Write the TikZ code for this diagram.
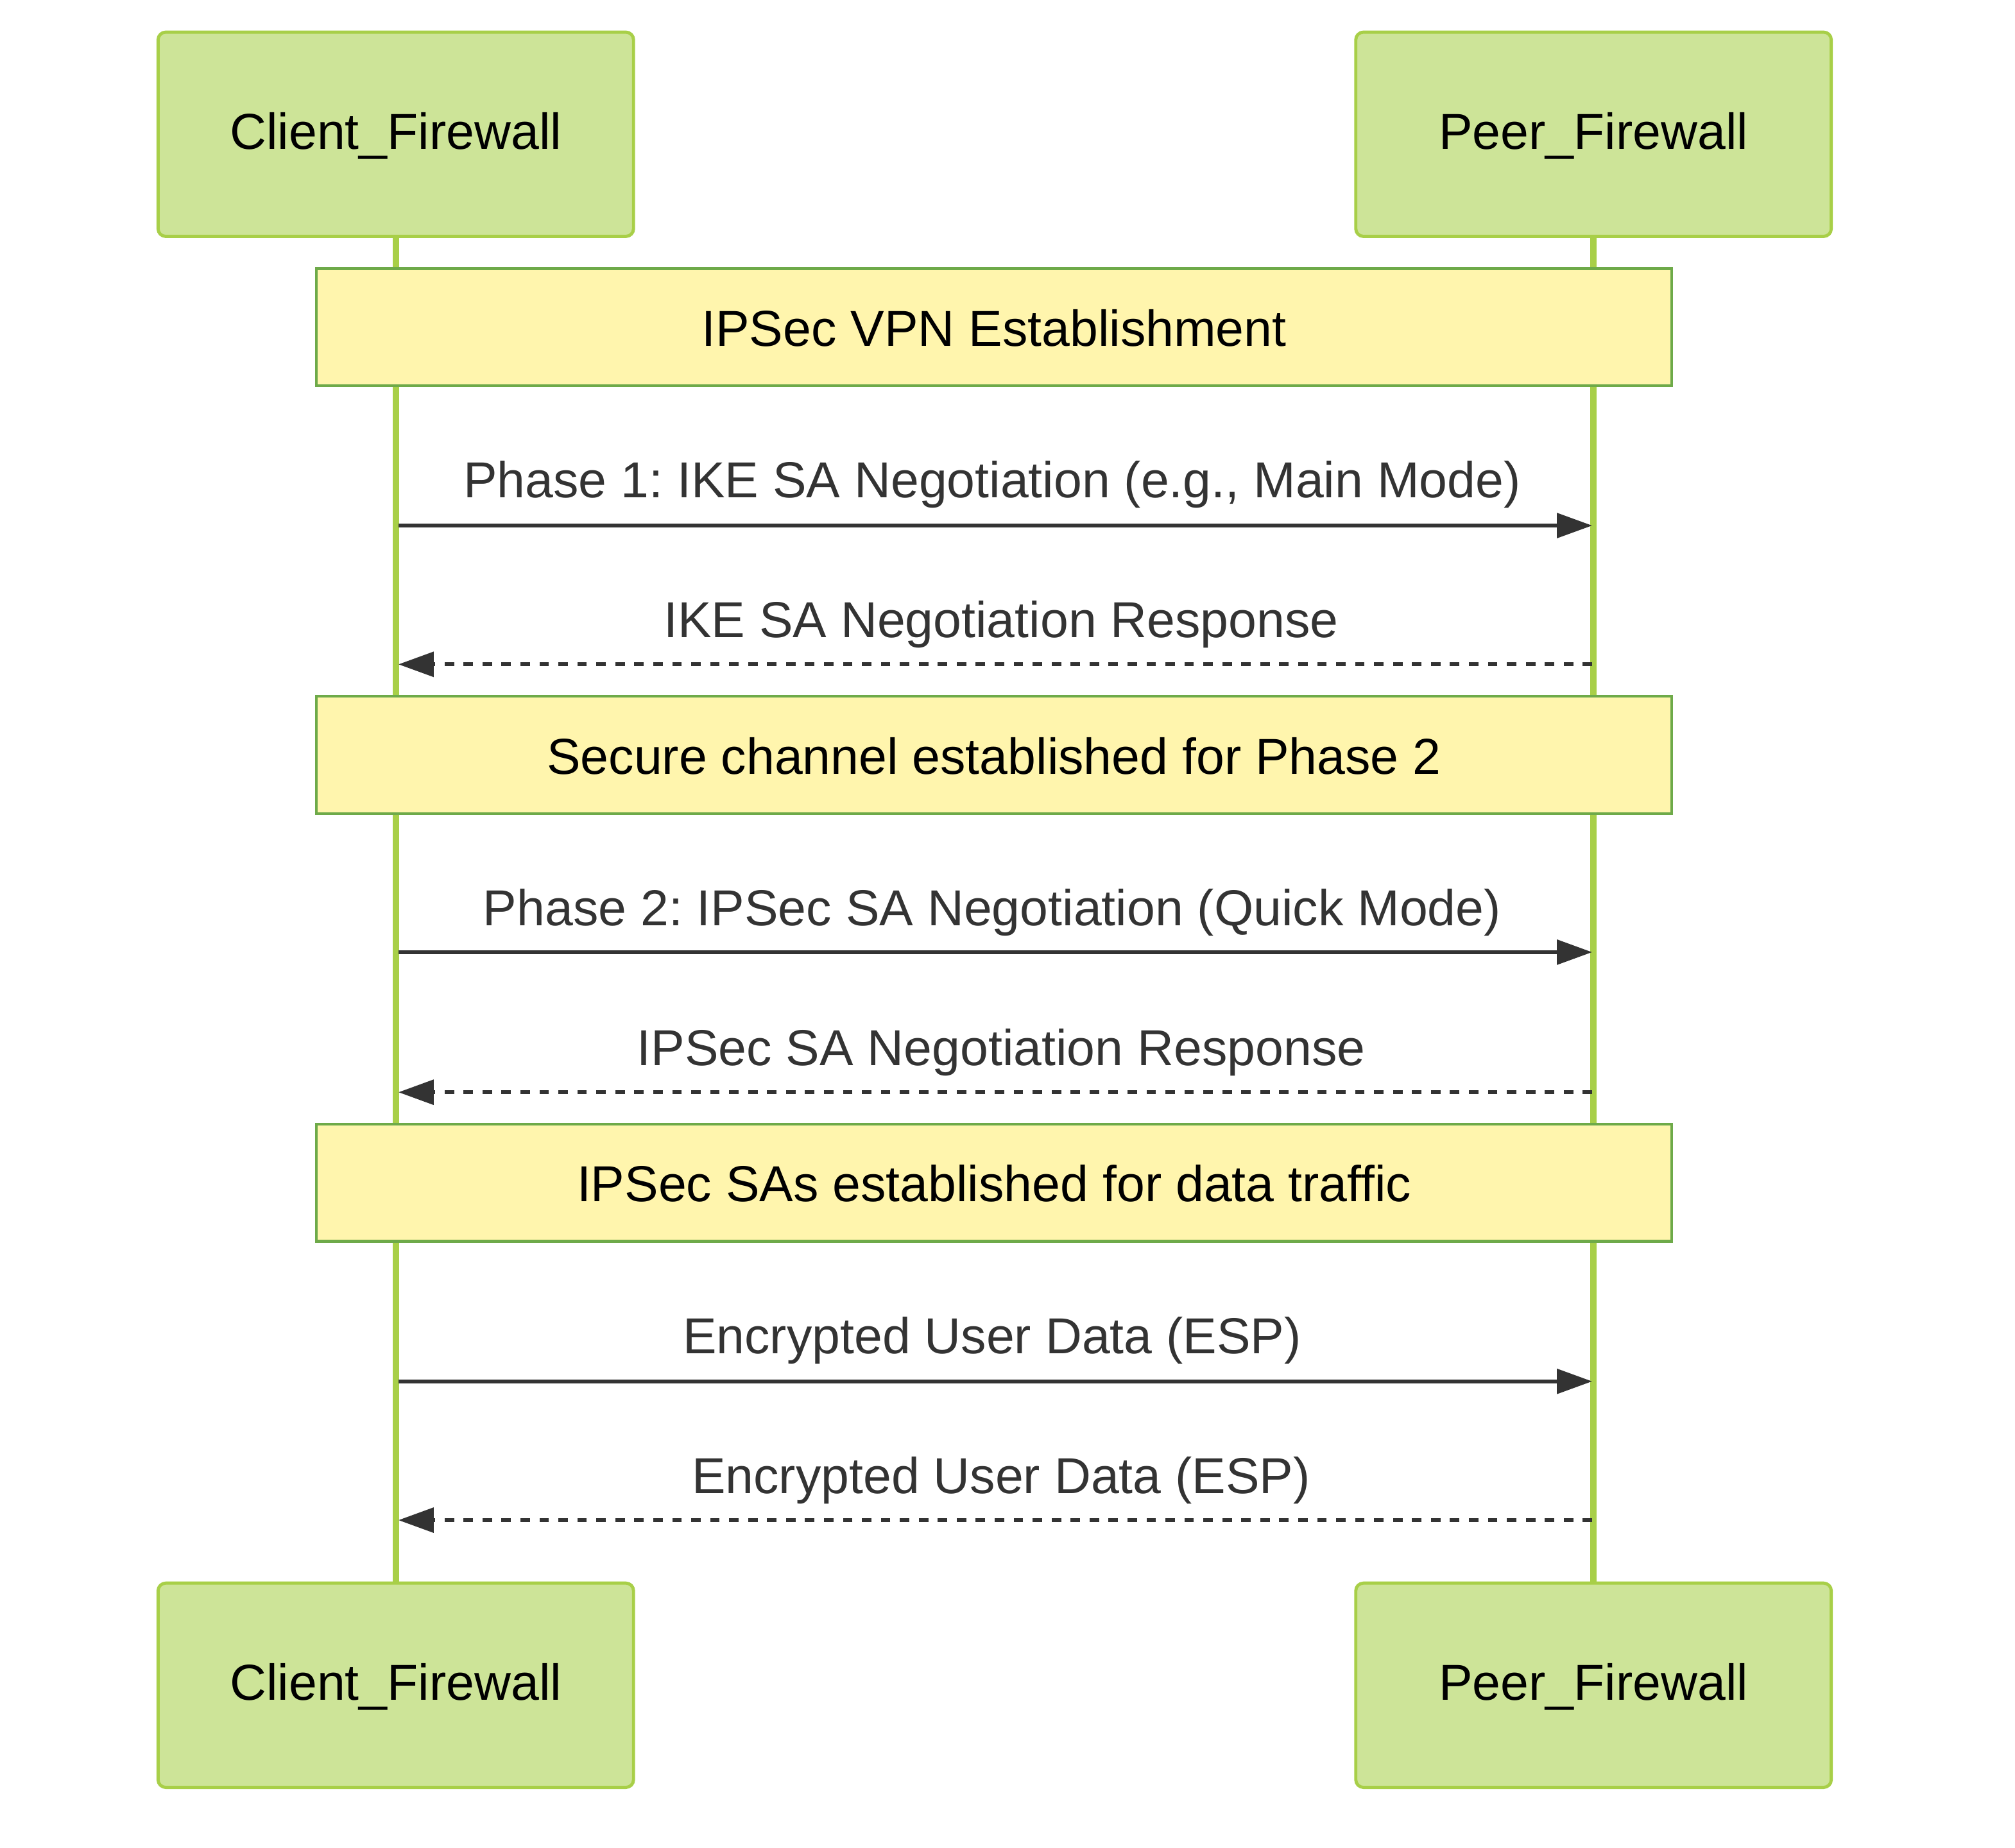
\documentclass[tikz,border=0pt]{standalone}
\usepackage{fontspec}
\setmainfont{Liberation Sans}
\usepackage{tikz}
\usetikzlibrary{arrows.meta}
\usepackage{xcolor}
\frenchspacing
\definecolor{actorfill}{HTML}{CDE498}
\definecolor{actorline}{HTML}{A8CF48}
\definecolor{notefill}{HTML}{FFF5AD}
\definecolor{noteline}{HTML}{6EAA49}
\definecolor{msgcol}{HTML}{333333}

\begin{document}
\begin{tikzpicture}[
  actor/.style={draw=actorline, fill=actorfill, line width=0.7pt, rounded corners=0.06cm,
    minimum width=3.70cm, minimum height=1.59cm, inner sep=0pt, text height=0.65em, text depth=0pt,
    font=\fontsize{11.2pt}{13.4pt}\selectfont},
  note/.style={draw=noteline, fill=notefill, line width=0.6pt,
    minimum width=10.55cm, minimum height=0.91cm, inner sep=0pt, text height=0.84em, text depth=0pt,
    font=\fontsize{11.2pt}{13.4pt}\selectfont},
  lifeline/.style={draw=actorline, line width=1.4pt},
  msg/.style={draw=msgcol, line width=0.9pt, -{Triangle[length=0.275cm, width=0.19cm]}},
  reply/.style={msg, dash pattern=on 2.1pt off 2.1pt},
  msglabel/.style={text=msgcol, inner sep=0pt, font=\fontsize{11.2pt}{13.4pt}\selectfont}
]
\useasboundingbox (0,0) rectangle (15.68,-14.38);

% Actors on top and bottom
\node[actor] (clienttop) at (3.08,-1.045) {Client\_Firewall};
\node[actor] (peertop) at (12.40,-1.045) {Peer\_Firewall};
\node[actor] (clientbot) at (3.08,-13.115) {Client\_Firewall};
\node[actor] (peerbot) at (12.40,-13.115) {Peer\_Firewall};

% Lifelines
\draw[lifeline] (clienttop.south) -- (clientbot.north);
\draw[lifeline] (peertop.south) -- (peerbot.north);

% Notes spanning both lifelines
\node[note] (note1) at (7.735,-2.545) {IPSec VPN Establishment};
\node[note] (note2) at (7.735,-5.875) {Secure channel established for Phase 2};
\node[note] (note3) at (7.735,-9.205) {IPSec SAs established for data traffic};

% Message end points on the lifelines
\coordinate (c1) at (3.10,-4.09);  \coordinate (p1) at (12.39,-4.09);
\coordinate (c2) at (3.10,-5.17);  \coordinate (p2) at (12.39,-5.17);
\coordinate (c3) at (3.10,-7.41);  \coordinate (p3) at (12.39,-7.41);
\coordinate (c4) at (3.10,-8.50);  \coordinate (p4) at (12.39,-8.50);
\coordinate (c5) at (3.10,-10.75); \coordinate (p5) at (12.39,-10.75);
\coordinate (c6) at (3.10,-11.83); \coordinate (p6) at (12.39,-11.83);

% Phase 1
\node[msglabel] (m1) at (7.72,-3.77) {Phase 1: IKE SA Negotiation (e.g., Main Mode)};
\draw[msg] (c1) -- (p1);
\node[msglabel] (m2) at (7.79,-4.86) {IKE SA Negotiation Response};
\draw[reply] (p2) -- (c2);

% Phase 2
\node[msglabel] (m3) at (7.72,-7.10) {Phase 2: IPSec SA Negotiation (Quick Mode)};
\draw[msg] (c3) -- (p3);
\node[msglabel] (m4) at (7.79,-8.19) {IPSec SA Negotiation Response};
\draw[reply] (p4) -- (c4);

% Data traffic
\node[msglabel] (m5) at (7.72,-10.43) {Encrypted User Data (ESP)};
\draw[msg] (c5) -- (p5);
\node[msglabel] (m6) at (7.79,-11.52) {Encrypted User Data (ESP)};
\draw[reply] (p6) -- (c6);
\end{tikzpicture}
\end{document}
